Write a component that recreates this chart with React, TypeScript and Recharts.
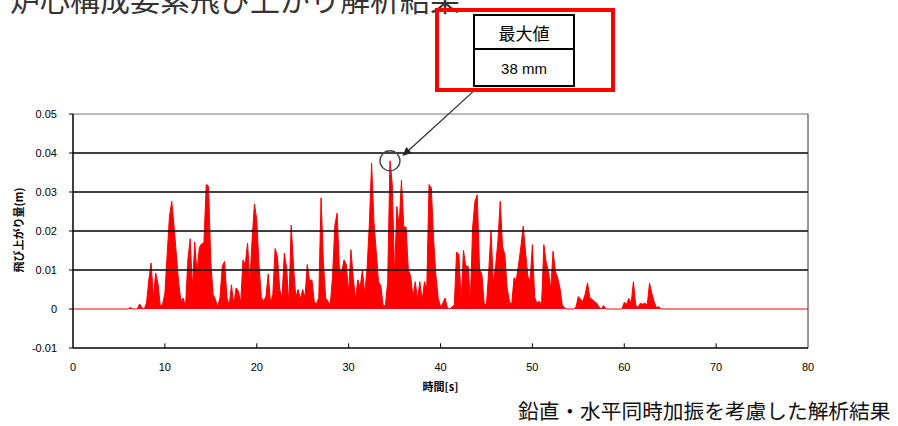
import React from "react";
import { AreaChart, Area, XAxis, YAxis, ReferenceLine, ReferenceDot } from "recharts";

// time axis of the record: first sample and spacing (s)
const sampleStart = 6;
const sampleStep = 0.25;

// uplift in mm, four samples per second (row label = second)
const upliftRows: number[][] = [
  [0, 0.4, 0, 0], // 6
  [0, 1.3, 0.3, 0], // 7
  [1.5, 7.5, 11.8, 3.0], // 8
  [9.2, 6.5, 0.8, 1.2], // 9
  [4.0, 14.0, 23.8, 27.6], // 10
  [21.0, 14.0, 6.7, 2.0], // 11
  [2.8, 0.6, 12.6, 18.0], // 12
  [5.4, 17.2, 9.2, 15.8], // 13
  [16.7, 17.0, 31.9, 31.5], // 14
  [12.0, 3.7, 2.5, 0.5], // 15
  [3.0, 11.0, 12.2, 3.0], // 16
  [0.8, 6.2, 1.0, 5.4], // 17
  [4.6, 1.5, 12.6, 11.4], // 18
  [16.9, 6.7, 18.0, 26.9], // 19
  [22.9, 11.0, 3.0, 2.0], // 20
  [3.2, 9.0, 1.5, 3.7], // 21
  [15.5, 13.5, 5.0, 2.8], // 22
  [14.3, 10.5, 1.0, 21.5], // 23
  [11.0, 3.0, 5.0, 2.5], // 24
  [5.0, 3.0, 11.4, 7.1], // 25
  [7.5, 2.0, 1.2, 3.0], // 26
  [28.5, 12.2, 2.8, 2.0], // 27
  [1.0, 8.4, 21.5, 24.6], // 28
  [10.0, 9.5, 12.6, 11.4], // 29
  [4.0, 15.2, 8.0, 2.5], // 30
  [7.5, 5.4, 10.0, 4.0], // 31
  [10.0, 21.6, 37.4, 22.5], // 32
  [15.0, 7.0, 6.0, 1.0], // 33
  [0.8, 7.0, 38.0, 31.9], // 34
  [8.5, 26.3, 21.2, 33.0], // 35
  [21.0, 21.0, 10.0, 8.5], // 36
  [3.0, 7.0, 2.5, 7.0], // 37
  [2.0, 7.0, 5.0, 31.9], // 38
  [31.0, 17.8, 8.5, 2.8], // 39
  [0.5, 1.5, 2.8, 0.3], // 40
  [0, 0.5, 1.0, 14.6], // 41
  [14.0, 2.0, 15.0, 11.0], // 42
  [11.0, 2.0, 21.0, 27.6], // 43
  [29.3, 10.0, 9.0, 1.5], // 44
  [1.0, 9.7, 20.0, 6.7], // 45
  [11.0, 17.5, 27.6, 16.0], // 46
  [14.0, 5.4, 2.0, 1.0], // 47
  [8.0, 7.5, 11.4, 16.0], // 48
  [21.2, 14.8, 8.5, 7.0], // 49
  [16.5, 3.0, 1.5, 2.0], // 50
  [1.0, 16.5, 12.0, 9.7], // 51
  [5.0, 14.8, 9.7, 8.0], // 52
  [5.4, 1.0, 0.3, 0], // 53
  [0, 0, 0, 0.5], // 54
  [3.2, 2.5, 1.9, 3.8], // 55
  [6.7, 2.9, 2.5, 1.9], // 56
  [1.5, 0.5, 0, 0.9], // 57
  [0, 0, 0, 0], // 58
  [0, 0, 0, 0], // 59
  [1.7, 1.2, 2.7, 1.5], // 60
  [7.0, 1.0, 0.4, 1.5], // 61
  [1.2, 1.5, 1.0, 6.6], // 62
  [4.0, 1.9, 0.3, 0.6], // 63
];

const xTicks = [0, 10, 20, 30, 40, 50, 60, 70, 80];
const yTicks = [-0.01, 0, 0.01, 0.02, 0.03, 0.04, 0.05];
const gridValues = [0.01, 0.02, 0.03, 0.04];

const samples = upliftRows.flat();
const data = [
  { t: 0, v: 0 },
  ...samples.map((mm, i) => ({ t: sampleStart + i * sampleStep, v: mm / 1000 })),
  { t: 64, v: 0 },
  { t: 80, v: 0 },
];

const peak = data.reduce((a, b) => (b.v > a.v ? b : a), data[0]);

const axisFont = "'Liberation Sans', Arial, sans-serif";
const jpFont = "'Noto Sans CJK JP', 'Noto Sans', sans-serif";

// arrow from the call-out box down to the peak circle
const ArrowShape = (p: any) => {
  const { x1, y1, x2, y2 } = p;
  const ang = Math.atan2(y2 - y1, x2 - x1);
  const len = 9;
  const w = 4;
  const bx = x2 - len * Math.cos(ang);
  const by = y2 - len * Math.sin(ang);
  const nx = -Math.sin(ang) * w;
  const ny = Math.cos(ang) * w;
  return (
    <g>
      <line x1={x1} y1={y1} x2={bx} y2={by} stroke="#333" strokeWidth={1.3} />
      <polygon points={`${x2},${y2} ${bx + nx},${by + ny} ${bx - nx},${by - ny}`} fill="#222" />
    </g>
  );
};

export default function App() {
  return (
    <div
      style={{
        position: "absolute",
        left: 0,
        top: 0,
        width: 898,
        height: 426,
        overflow: "hidden",
        background: "#fff",
        fontFamily: jpFont,
      }}
    >
      <div style={{ position: "absolute", left: 10, top: -17, fontSize: 30, lineHeight: 1, color: "#333", whiteSpace: "nowrap" }}>
        炉心構成要素飛び上がり解析結果
      </div>

      <AreaChart width={898} height={426} data={data} margin={{ top: 114, right: 90, bottom: 28, left: 13 }}>
        <XAxis
          dataKey="t"
          type="number"
          domain={[0, 80]}
          ticks={xTicks}
          allowDataOverflow
          tick={{ fontSize: 11, fill: "#000", fontFamily: axisFont }}
          tickLine={false}
          tickSize={0}
          tickMargin={15}
          axisLine={{ stroke: "#000", strokeWidth: 1.5 }}
          height={50}
          label={{ value: "時間[s]", position: "insideBottom", offset: 7, fontSize: 11, fontWeight: 700, fill: "#000", fontFamily: jpFont }}
        />
        <YAxis
          type="number"
          domain={[-0.01, 0.05]}
          ticks={yTicks}
          allowDataOverflow
          width={60}
          tick={{ fontSize: 11, fill: "#000", fontFamily: axisFont }}
          tickLine={{ stroke: "#000" }}
          tickSize={4}
          tickMargin={12}
          axisLine={{ stroke: "#000", strokeWidth: 1.5 }}
          tickFormatter={(v: number) => (v === 0 ? "0" : v.toFixed(2))}
        />
        <Area
          type="linear"
          dataKey="v"
          baseValue={0}
          stroke="#ff0000"
          strokeWidth={1}
          fill="#ff0000"
          fillOpacity={1}
          dot={false}
          activeDot={false}
          isAnimationActive={false}
        />
        {gridValues.map((y) => (
          <ReferenceLine key={y} y={y} stroke="#000" strokeWidth={1.5} />
        ))}
        <ReferenceLine y={0.05} stroke="#777" strokeWidth={1} />
        <ReferenceLine x={80} stroke="#333" strokeWidth={1} />
        {xTicks.slice(1, -1).map((x) => (
          <ReferenceLine key={"tk" + x} segment={[{ x, y: -0.01 }, { x, y: -0.0088 }]} stroke="#000" />
        ))}
        <ReferenceDot x={peak.t} y={peak.v} r={10} fill="none" stroke="#444" strokeWidth={1.4} ifOverflow="visible" />
        <ReferenceLine
          segment={[{ x: 44, y: 0.0567 }, { x: peak.t + 1.35, y: peak.v + 0.0012 }]}
          ifOverflow="visible"
          shape={ArrowShape}
        />
      </AreaChart>

      <div style={{ position: "absolute", left: 18, top: 230, transform: "translate(-50%, -50%) rotate(-90deg)", whiteSpace: "nowrap", fontSize: 11, fontWeight: 700, color: "#000" }}>
        飛び上がり量(m)
      </div>

      <div style={{ position: "absolute", left: 435, top: 8, width: 180, height: 84, border: "4px solid #ff0000", boxSizing: "border-box" }} />
      <div
        style={{
          position: "absolute",
          left: 473,
          top: 14,
          width: 102,
          height: 73,
          border: "2px solid #000",
          boxSizing: "border-box",
          background: "#fff",
          color: "#000",
        }}
      >
        <div style={{ height: 32, borderBottom: "2px solid #000", display: "flex", alignItems: "center", justifyContent: "center", fontSize: 17 }}>
          最大値
        </div>
        <div style={{ height: 37, display: "flex", alignItems: "center", justifyContent: "center", fontSize: 15, fontFamily: axisFont }}>
          {Math.round(peak.v * 1000)} mm
        </div>
      </div>

      <div style={{ position: "absolute", left: 518, top: 398, fontSize: 20.7, lineHeight: 1.2, color: "#111", whiteSpace: "nowrap" }}>
        鉛直・水平同時加振を考慮した解析結果
      </div>
    </div>
  );
}
